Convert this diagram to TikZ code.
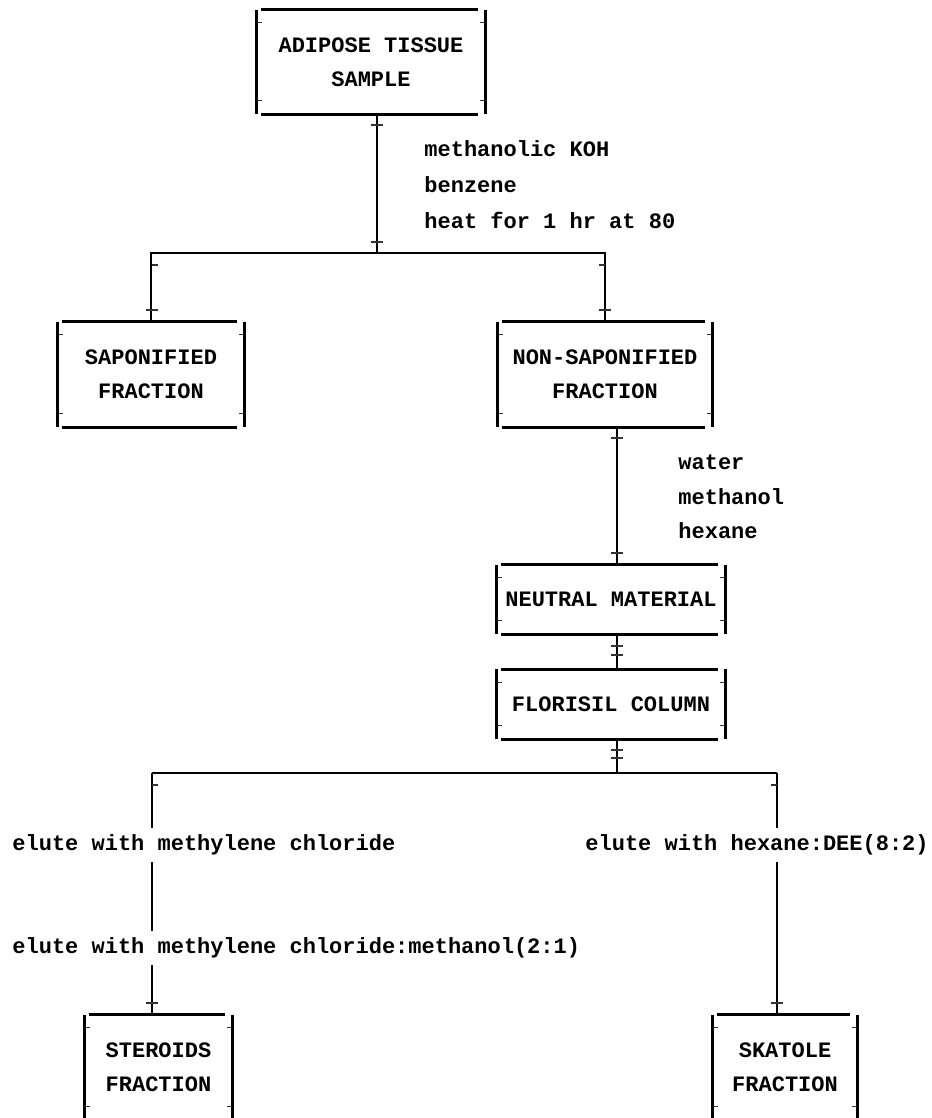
\documentclass[tikz,border=0pt]{standalone}
\usepackage{fontspec}
\newfontfamily\flowfont{Liberation Mono}
\usetikzlibrary{positioning}
\usetikzlibrary{calc}

\begin{document}
\begin{tikzpicture}[
                x=0.5pt, y=-0.5pt,
                every node/.style={
                        inner sep=0pt,
                        font=\flowfont\bfseries\fontsize{11}{17}\selectfont
                    },
                stagebox/.style 2 args={
                        align=center,
                        minimum width=#1,
                        minimum height=#2
                    },
                textnode/.style={
                        align=left,
                        anchor=west,
                        font=\flowfont\bfseries\fontsize{11}{#1}\selectfont
                    },
                elute/.style={
                        anchor=west,
                        inner ysep=3pt
                    },
                rim/.style={line width=1.4pt},
                link/.style={line width=1.1pt},
                crossbar/.style={line width=0.6pt, black!80}
            ]
            \useasboundingbox (0,0) rectangle (931,1118);

            % Boxes
            \node[stagebox={114pt}{52pt}] (adipose) at (371,62) {ADIPOSE TISSUE\\SAMPLE};
            \node[stagebox={93pt}{52.5pt}] (sapon) at (151,374.5) {SAPONIFIED\\FRACTION};
            \node[stagebox={107pt}{52.5pt}] (nonsap) at (605,374.5) {NON-SAPONIFIED\\FRACTION};
            \node[stagebox={114pt}{34.5pt}] (neutral) at (611,599.5) {NEUTRAL MATERIAL};
            \node[stagebox={114pt}{34.5pt}, below=17.5pt of neutral] (florisil) {FLORISIL COLUMN};
            \node[stagebox={73.5pt}{52.5pt}] (steroids) at (158.5,1067.5) {STEROIDS\\FRACTION};
            \node[stagebox={72pt}{52.5pt}] (skatole) at (785,1067.5) {SKATOLE\\FRACTION};

            % Reagents and elution steps
            \node[textnode=18pt] (saponify) at (424,185) {methanolic KOH\\benzene\\heat for 1 hr at 80};
            \node[textnode=17.25pt] (extract) at (678,497) {water\\methanol\\hexane};
            \node[elute] (elute1) at (12,845) {elute with methylene chloride};
            \node[elute] (elute2) at (12,948) {elute with methylene chloride:methanol(2:1)};
            \node[elute] (elute3) at (585,845) {elute with hexane:DEE(8:2)};

            % Box outlines with corner ticks
            \foreach \stage in {adipose,sapon,nonsap,neutral,florisil,steroids,skatole}{
                \draw[rim] ([xshift=2pt]\stage.north west) -- ([xshift=-3.5pt]\stage.north east);
                \draw[rim] ([xshift=2pt]\stage.south west) -- ([xshift=-3.5pt]\stage.south east);
                \draw[rim] (\stage.north west) -- (\stage.south west);
                \draw[rim] (\stage.north east) -- (\stage.south east);
                \draw[crossbar] ([yshift=-6.5pt]\stage.north west) -- ++(5,0);
                \draw[crossbar] ([yshift=7pt]\stage.south west) -- ++(5,0);
                \draw[crossbar] ([yshift=-6.5pt]\stage.north east) -- ++(-5,0);
                \draw[crossbar] ([yshift=7pt]\stage.south east) -- ++(-5,0);
            }

            % Branch points
            \coordinate (split) at (377,253);
            \coordinate (fork) at (617,773);
            \coordinate (forkL) at (152,773);
            \coordinate (forkR) at (777,773);

            % Connectors
            \draw[link] (adipose.south -| split) -- (split);
            \draw[link] (sapon.north) |- (split) -| (nonsap.north);
            \draw[link] (nonsap.south -| fork) -- (neutral.north -| fork);
            \draw[link] (neutral.south -| fork) -- (florisil.north -| fork);
            \draw[link] (florisil.south -| fork) -- (fork);
            \draw[link] (forkL) -- (forkR);
            \draw[link] (forkL) -- (elute1.north -| forkL);
            \draw[link] (elute1.south -| forkL) -- (elute2.north -| forkL);
            \draw[link] (elute2.south -| forkL) -- (steroids.north -| forkL);
            \draw[link] (forkR) -- (elute3.north -| forkR);
            \draw[link] (elute3.south -| forkR) -- (skatole.north -| forkR);

            % Cross marks on the connectors
            \foreach \cx/\cy in {377/125, 377/242, 152/310, 605/310, 617/438, 617/553,
                                 617/646, 617/655, 617/750, 617/758, 152/1003, 777/1003}
                \draw[crossbar] (\cx-6,\cy) -- (\cx+6,\cy);
            \draw[crossbar] (152,265) -- ++(6,0);
            \draw[crossbar] (605,265) -- ++(-6,0);
            \draw[crossbar] (152,785) -- ++(6,0);
            \draw[crossbar] (777,785) -- ++(-6,0);

        \end{tikzpicture}
\end{document}
